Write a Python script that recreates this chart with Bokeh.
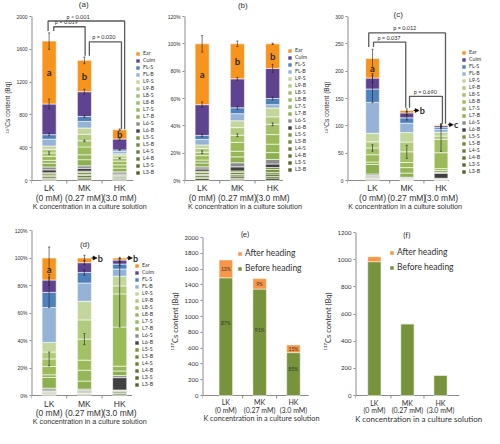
import numpy as np
from bokeh.plotting import figure
from bokeh.models import (ColumnDataSource, Legend, LegendItem, FixedTicker,
                          PrintfTickFormatter, Arrow, NormalHead, Range1d)
from bokeh.layouts import column, row
from bokeh.core.properties import value
from bokeh.embed import file_html
from bokeh.resources import INLINE

# ---------------- data ----------------
parts = ["L3-B", "L3-S", "L4-B", "L4-S", "L5-B", "L5-S", "L6-B", "L6-S",
         "L7-B", "L7-S", "L8-B", "L8-S", "L9-B", "L9-S", "FL-B", "FL-S",
         "Culm", "Ear"]
part_colors = ["#4F6228", "#56692C", "#5E7531", "#667F35", "#6E8A39", "#77933C",
               "#404040", "#8C8C8C", "#8DB04F", "#95B757", "#9BBB59", "#A3C166",
               "#B1CB7D", "#C3D69B", "#95B3D7", "#4F81BD", "#5E4390", "#F7941D"]
treatments = ["LK", "MK", "HK"]
concentrations = ["(0 mM)", "(0.27 mM)", "(3.0 mM)"]
x_pos = [1, 2, 3]
x_axis_label = "K concentration in a culture solution"
y_label_bq = "\u00b9\u00b3\u2077Cs content (Bq)"

# (a) 137Cs content (Bq); each list bottom -> top in the order of `parts`
a_LK = [15, 12, 20, 12, 22, 14, 35, 35, 45, 35, 50, 40, 45, 41, 83, 55, 374, 767]
a_MK = [20, 15, 25, 15, 25, 14, 35, 30, 75, 60, 95, 75, 80, 76, 80, 60, 303, 382]
a_HK = [15, 12, 15, 10, 12, 8, 18, 16, 45, 40, 45, 35, 30, 25, 27, 20, 133, 112]
# (b) distribution (%)
b_LK = [1.5, 0.9, 1.2, 0.8, 1.4, 1.0, 1.6, 1.6, 2.8, 2.2, 3.2, 2.5, 2.8, 2.5, 4.0, 3.0, 22.5, 44.5]
b_MK = [1.0, 0.7, 1.6, 1.0, 1.7, 1.0, 3.0, 3.0, 4.3, 4.1, 6.5, 5.2, 5.6, 5.0, 5.2, 4.3, 21.2, 25.6]
b_HK = [1.8, 1.2, 1.7, 1.3, 2.0, 1.5, 2.6, 3.3, 5.0, 6.2, 7.0, 7.5, 5.5, 6.5, 2.4, 4.5, 22.0, 18.0]
# (c) 137Cs content (Bq)
c_LK = [1.8, 0.7, 1.3, 0.9, 1.6, 1.1, 1.6, 2.9, 17.4, 4.5, 13.4, 12.3, 11.2, 15.6, 56.6, 24.5, 20.0, 35.7]
c_MK = [0.9, 0.4, 0.6, 0.4, 0.9, 0.6, 0.8, 1.3, 7.6, 10.1, 9.3, 19.6, 17.9, 17.3, 17.0, 9.9, 9.1, 4.4]
c_HK = [1.1, 0.5, 1.0, 0.5, 0.5, 0.5, 9.2, 1.5, 3.4, 3.6, 29.0, 24.6, 5.9, 7.1, 5.4, 3.7, 3.0, 1.5]
# (d) distribution (%)
d_LK = [0.8, 0.3, 0.6, 0.4, 0.7, 0.5, 0.7, 1.3, 7.8, 2.0, 6.0, 5.5, 5.0, 7.0, 25.4, 11.0, 9.0, 16.0]
d_MK = [0.7, 0.3, 0.5, 0.3, 0.7, 0.5, 0.6, 1.0, 5.9, 7.9, 7.3, 15.3, 14.0, 13.5, 13.3, 7.7, 7.1, 3.4]
d_HK = [1.1, 0.5, 1.0, 0.5, 0.5, 0.4, 9.0, 1.5, 3.3, 3.5, 28.5, 24.1, 5.8, 7.0, 5.3, 3.6, 2.9, 1.5]

# error bars (SD) at the tops of these parts
err_parts = ["Ear", "Culm", "FL-S", "L8-S"]
a_err = [[100, 60, 15, 15], [40, 30, 10, 10], [10, 15, 5, 5]]
b_err = [[6, 2, 1, 1], [2, 1, 1, 1], [0.5, 3, 1, 1]]
c_err = [[17, 8, 25, 6], [3, 3, 4, 12], [2, 2, 2, 22]]
d_err = [[8, 4, 11, 5], [2, 1.5, 2, 4], [0.5, 1, 1, 24]]

a_letters = ["a", "b", "b"]
b_letters = ["a", "b", "b"]
c_letters = ["a", "b", "c"]
d_letters = ["a", "b", "b"]
c_letter_mode = ["in", "arrow", "arrow"]
d_letter_mode = ["in", "arrow", "arrow"]

# significance brackets: (x_left, x_right, y_line, y_left_end, y_right_end, label, label_x)
a_brackets = [(0.97, 3.14, 1945, 1823, 625, "p < 0.001", 1.82),
              (1.13, 2.02, 1875, 1823, 1520, "p = 0.019", 1.49),
              (2.14, 3.05, 1690, 1520, 625, "p = 0.020", 2.55)]
c_brackets = [(0.89, 3.13, 270, 244, 104, "p = 0.012", 1.94),
              (1.03, 1.97, 253, 244, 133, "p = 0.037", 1.48),
              (2.08, 3.04, 154, 133, 104, "p = 0.690", 2.54)]

# (e), (f): before / after heading
e_before = [1490, 1347, 543]
e_after = [225, 133, 97]
e_before_pct = ["87%", "91%", "85%"]
e_after_pct = ["13%", "9%", "15%"]
f_before = [985, 528, 150]
f_after = [37, 0, 0]
before_color = "#77933C"
after_color = "#F79646"

FA = "Liberation Sans"
FL = "Lato"
AXIS_C = "#8C8C8C"
TXT_C = "#303030"
LABEL_EM = 15.9   # approximate width of the axis title in em


def make_fig(w, h, bl, br, bt, bb, xr, ymax, yticks, axis_end, xfont, xsize,
             lab_px, lab_cx, lab_font, lab_size, title, title_font, title_cx, title_px):
    """Frame = whole canvas right of the y axis; the plot region 0..ymax sits
    bt px below the top and bb px above the bottom; labels are drawn inside."""
    ph = h - bt - bb
    u = ymax / ph                      # data units per pixel (vertical)
    ppu = (w - bl - br) / (xr[1] - xr[0])  # pixels per x unit
    p = figure(width=w, height=h, x_range=Range1d(*xr),
               y_range=Range1d(-bb * u, ymax + bt * u),
               output_backend="svg", toolbar_location=None, x_axis_location=None,
               min_border_left=bl, min_border_right=br, min_border_top=0,
               min_border_bottom=0)
    p.grid.visible = False
    p.outline_line_color = None
    # axes lines and category separators
    p.segment([xr[0]], [0], [axis_end], [0], line_color=AXIS_C, line_width=1)
    p.segment([xr[0]], [0], [xr[0]], [ymax], line_color=AXIS_C, line_width=2)
    ticks = [xr[0], 1.5, 2.5]
    p.segment(ticks, [0] * 3, ticks, [-3 * u] * 3, line_color=AXIS_C, line_width=1)
    # category labels (two lines)
    p.text(x=x_pos, y=[-lab_px[0] * u] * 3, text=treatments, text_align="center",
           text_baseline="middle", text_font=value(xfont), text_font_size=xsize,
           text_color=TXT_C)
    p.text(x=x_pos, y=[-lab_px[1] * u] * 3, text=concentrations, text_align="center",
           text_baseline="middle", text_font=value(xfont), text_font_size=xsize,
           text_color=TXT_C)
    # axis title, kept inside the frame
    hw = 0.5 * LABEL_EM * float(lab_size.replace("px", ""))
    cx = min(max(lab_cx, bl + hw + 1), w - br - hw - 1)
    p.text(x=[xr[0] + (cx - bl) / ppu], y=[-lab_px[2] * u], text=[x_axis_label],
           text_align="center", text_baseline="middle", text_font=value(lab_font),
           text_font_size=lab_size, text_color=TXT_C)
    # panel title
    p.text(x=[xr[0] + (title_cx - bl) / ppu], y=[ymax + title_px * u], text=[title],
           text_align="center", text_baseline="middle", text_font=value(title_font),
           text_font_size="8px", text_color=TXT_C)
    # y axis
    p.yaxis.ticker = FixedTicker(ticks=yticks)
    p.yaxis.minor_tick_line_color = None
    p.yaxis.major_tick_in = 0
    p.yaxis.major_tick_out = 2
    p.yaxis.major_tick_line_color = AXIS_C
    p.yaxis.axis_line_color = None
    p.yaxis.major_label_standoff = 2
    p.yaxis.axis_label_standoff = 2
    p.yaxis.axis_label_text_font_style = "normal"
    p.yaxis.axis_label_text_color = TXT_C
    p.yaxis.major_label_text_color = TXT_C
    return p, u


def stack_panel(bars, ymax, ystep, pct, ylabel, w, h, bl, bt, bb, xr, axis_end,
                errs, letters, modes, brackets, leg_loc, lab_px, lab_cx, title, title_cx,
                title_px):
    p, u = make_fig(w, h, bl, 2, bt, bb, xr, ymax,
                    list(np.arange(0, ymax + ystep / 2, ystep)), axis_end, FA, "8.5px",
                    lab_px, lab_cx, FA, "7.2px", title, FA, title_cx, title_px)
    data = {"x": x_pos}
    for i, part in enumerate(parts):
        data[part] = [b[i] for b in bars]
    src = ColumnDataSource(data)
    rs = p.vbar_stack(parts, x="x", width=0.4, color=part_colors, line_color="white",
                      line_width=0.6, source=src)
    items = [LegendItem(label=parts[i], renderers=[rs[i]]) for i in reversed(range(len(parts)))]
    leg = Legend(items=items, location=(leg_loc[0], leg_loc[1] + bb), glyph_width=5,
                 glyph_height=5, label_text_font_size="5.3px", label_text_font=FL,
                 label_height=6, label_standoff=3, spacing=1, padding=0, margin=0,
                 border_line_color=None, background_fill_alpha=0,
                 label_text_color=TXT_C)
    p.add_layout(leg)
    p.yaxis.major_label_text_font = FA
    p.yaxis.major_label_text_font_size = "5px"
    if pct:
        p.yaxis.formatter = PrintfTickFormatter(format="%d%%")
    if ylabel:
        p.yaxis.axis_label = ylabel
        p.yaxis.axis_label_text_font = FA
        p.yaxis.axis_label_text_font_size = "6.5px"
    # error bars
    ex, ey0, ey1, cx0, cx1, cy = [], [], [], [], [], []
    for bi, b in enumerate(bars):
        cum = np.cumsum(b)
        for ei, part in enumerate(err_parts):
            top = cum[parts.index(part)]
            e = errs[bi][ei]
            ex.append(x_pos[bi]); ey0.append(top - e); ey1.append(top + e)
            for yy in (top - e, top + e):
                cx0.append(x_pos[bi] - 0.03); cx1.append(x_pos[bi] + 0.03); cy.append(yy)
    p.segment(ex, ey0, ex, ey1, line_color="#222222", line_width=0.6)
    p.segment(cx0, cy, cx1, cy, line_color="#222222", line_width=0.6)
    # significance letters
    for bi, b in enumerate(bars):
        cum = np.cumsum(b)
        total = cum[-1]
        mode = modes[bi] if modes else "in"
        if mode == "in":
            ymid = (cum[-2] + total) / 2
            p.text(x=[x_pos[bi]], y=[ymid], text=[letters[bi]], text_align="center",
                   text_baseline="middle", text_font=value(FL), text_font_size="9.5px",
                   text_font_style="bold", text_color="#2A2A2A")
        else:
            p.add_layout(Arrow(end=NormalHead(size=4, fill_color="black", line_color="black",
                                              line_width=0.5),
                               x_start=x_pos[bi] + 0.2, y_start=total,
                               x_end=x_pos[bi] + 0.36, y_end=total, line_width=1,
                               line_color="black"))
            p.text(x=[x_pos[bi] + 0.38], y=[total], text=[letters[bi]],
                   text_align="left", text_baseline="middle", text_font=value(FL),
                   text_font_size="9px", text_font_style="bold", text_color="#2A2A2A")
    if brackets:
        xs, ys = [], []
        for (x1, x2, yl, y1e, y2e, lab, lx) in brackets:
            xs.append([x1, x1, x2, x2]); ys.append([y1e, yl, yl, y2e])
            p.text(x=[lx], y=[yl + 1.5 * u], text=[lab], text_align="center",
                   text_baseline="bottom", text_font=value(FL), text_font_size="5.5px",
                   text_color=TXT_C)
        p.multi_line(xs, ys, line_color="#5A5A5A", line_width=1.3)
    return p


pa = stack_panel([a_LK, a_MK, a_HK], 2000, 400, False, y_label_bq,
                 160, 214, 31, 16, 34, (0.5, 4.1), 3.38, a_err, a_letters, None, a_brackets,
                 (104, 5), (7.7, 17.4, 26), 83.7, "(a)", 83.2, 11.6)
pb = stack_panel([b_LK, b_MK, b_HK], 120, 20, True, None,
                 160, 214, 24, 16, 34, (0.5, 4.3), 3.29, b_err, b_letters, None, None,
                 (103, 8), (7.7, 17.4, 26), 84.5, "(b)", 82.3, 10.6)
pc = stack_panel([c_LK, c_MK, c_HK], 300, 50, False, y_label_bq,
                 164, 214, 23, 16, 34, (0.27, 4.21), 3.23, c_err, c_letters, c_letter_mode,
                 c_brackets, (114, 6), (7.7, 17.4, 26), 82.3, "(c)", 75.2, 1.6)
pd = stack_panel([d_LK, d_MK, d_HK], 120, 20, True, None,
                 160, 214, 31, 16, 33, (0.5, 4.1), 3.35, d_err, d_letters, d_letter_mode, None,
                 (103, 8), (8.1, 17, 25.7), 81.3, "(d)", 84.3, -13.9)


def heading_panel(before, after, ymax, w, h, bl, bt, bb, xr, axis_end, bpct, apct, legloc,
                  lab_px, lab_cx, lab_size, title, title_cx, title_px):
    p, u = make_fig(w, h, bl, 0, bt, bb, xr, ymax, list(range(0, ymax + 1, 200)), axis_end,
                    FL, "7px", lab_px, lab_cx, FL, lab_size, title, FL, title_cx, title_px)
    src = ColumnDataSource(dict(x=x_pos, before=before, after=after))
    rs = p.vbar_stack(["before", "after"], x="x", width=0.4, color=[before_color, after_color],
                      line_color="white", line_width=0.5, source=src)
    leg = Legend(items=[LegendItem(label="After heading", renderers=[rs[1]]),
                        LegendItem(label="Before heading", renderers=[rs[0]])],
                 location=(legloc[0], legloc[1] + bb), glyph_width=5, glyph_height=5,
                 label_text_font=FL, label_text_font_size="8.5px", label_height=9,
                 label_standoff=3, spacing=5, padding=0, margin=0, border_line_color=None,
                 background_fill_alpha=0, label_text_color=TXT_C)
    p.add_layout(leg)
    p.yaxis.major_label_text_font = FL
    p.yaxis.major_label_text_font_size = "6px"
    p.yaxis.axis_label = y_label_bq
    p.yaxis.axis_label_text_font = FL
    p.yaxis.axis_label_text_font_size = "7.5px"
    if bpct:
        for i in range(3):
            p.text(x=[x_pos[i]], y=[before[i] * 0.62], text=[bpct[i]], text_align="center",
                   text_baseline="middle", text_font=value(FL), text_font_size="5px",
                   text_color="#333333")
            p.text(x=[x_pos[i]], y=[before[i] + after[i] / 2], text=[apct[i]],
                   text_align="center", text_baseline="middle", text_font=value(FL),
                   text_font_size="5px", text_color="#333333")
    return p


pe = heading_panel(e_before, e_after, 2000, 160, 214, 42, 23, 33, (0.31, 3.80), 3.45,
                   e_before_pct, e_after_pct, (35, 122), (6.7, 14.8, 22.8), 83.6, "7.3px",
                   "(e)", 84.5, 3.9)
pf = heading_panel(f_before, f_after, 1200, 164, 214, 32, 18, 33, (0.43, 4.33), 3.57,
                   None, None, (34, 123), (7.4, 14.8, 23.5), 93.8, "8px",
                   "(f)", 84.5, -2.6)

layout = column(row(pa, pb, pc), row(pd, pe, pf))
open("out.html", "w").write(file_html(layout, INLINE))
